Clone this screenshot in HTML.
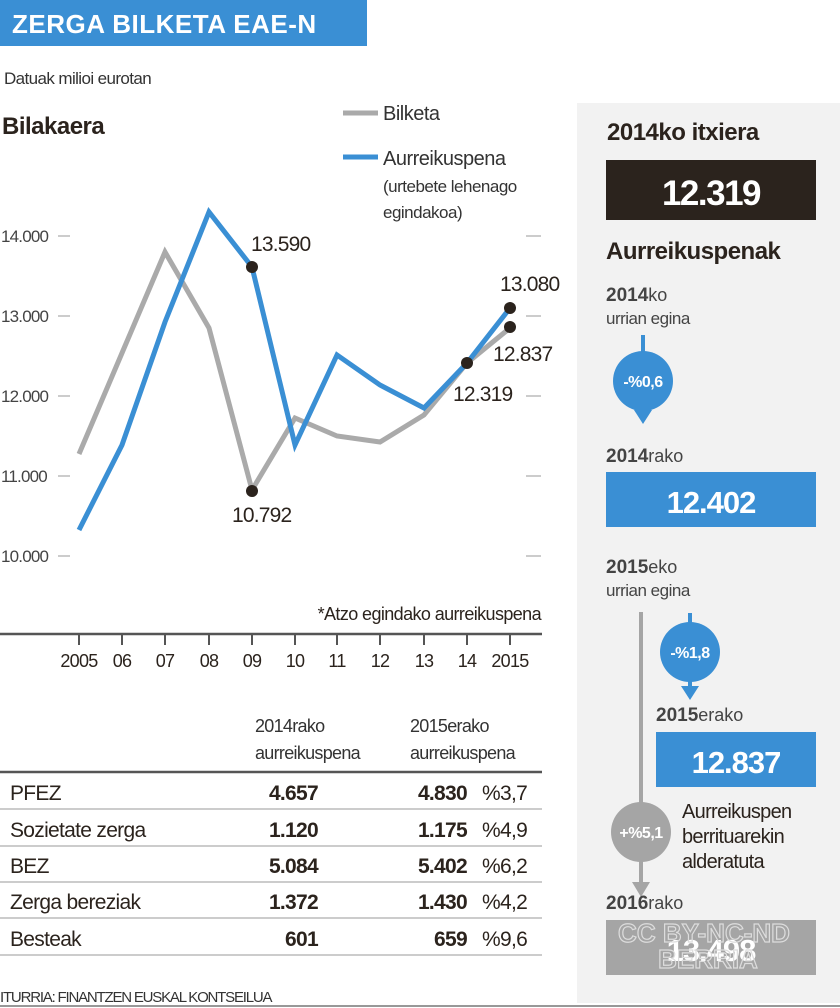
<!DOCTYPE html>
<html><head><meta charset="utf-8"><style>
html,body{margin:0;padding:0;background:#fff;}
svg{display:block;font-family:"Liberation Sans",sans-serif;}
</style></head><body>
<svg width="840" height="1008" viewBox="0 0 840 1008" xmlns="http://www.w3.org/2000/svg">
<rect x="0" y="0" width="367" height="46" fill="#3a8fd4"/>
<text x="12" y="33" font-size="26" font-weight="bold" fill="#fff" letter-spacing="0.5">ZERGA BILKETA EAE-N</text>
<text x="4" y="84" font-size="17" fill="#333" letter-spacing="-0.6">Datuak milioi eurotan</text>
<text x="2" y="134" font-size="24" font-weight="bold" fill="#2b231d" letter-spacing="-0.5">Bilakaera</text>
<line x1="343" y1="113" x2="378" y2="113" stroke="#aaa" stroke-width="5"/>
<text x="383" y="120" font-size="20" fill="#333" letter-spacing="-0.5">Bilketa</text>
<line x1="343" y1="157" x2="378" y2="157" stroke="#3a8fd4" stroke-width="5"/>
<text x="383" y="165" font-size="20" fill="#333" letter-spacing="-0.5">Aurreikuspena</text>
<text x="383" y="192" font-size="17" fill="#333" letter-spacing="-0.5">(urtebete lehenago</text>
<text x="383" y="218" font-size="17" fill="#333" letter-spacing="-0.5">egindakoa)</text>
<g font-size="17" fill="#444" letter-spacing="-0.8">
<text x="1" y="242">14.000</text><text x="1" y="322">13.000</text><text x="1" y="402">12.000</text><text x="1" y="482">11.000</text><text x="1" y="562">10.000</text>
</g>
<g stroke="#999" stroke-width="1">
<line x1="58" y1="236" x2="70" y2="236"/><line x1="58" y1="316" x2="70" y2="316"/><line x1="58" y1="396" x2="70" y2="396"/><line x1="58" y1="476" x2="70" y2="476"/><line x1="58" y1="556" x2="70" y2="556"/>
<line x1="526" y1="236" x2="541" y2="236"/><line x1="526" y1="316" x2="541" y2="316"/><line x1="526" y1="396" x2="541" y2="396"/><line x1="526" y1="476" x2="541" y2="476"/><line x1="526" y1="556" x2="541" y2="556"/>
</g>
<polyline fill="none" stroke="#aaa" stroke-width="5" stroke-linejoin="miter" points="79,454 122,353 165,252 209,328 252,490 295,418 337,436 380,442 424,415 467,363 510,328"/>
<polyline fill="none" stroke="#3a8fd4" stroke-width="5" stroke-linejoin="miter" points="79,530 122,445 165,322 209,212 252,267 295,445 337,355 380,385 424,408 467,363 510,308"/>
<g fill="#2b231d"><circle cx="252" cy="267" r="6"/><circle cx="252" cy="491" r="6"/><circle cx="467" cy="363" r="6"/><circle cx="510" cy="308" r="6"/><circle cx="510" cy="327" r="6"/></g>
<g font-size="21" fill="#2b231d" letter-spacing="-0.8">
<text x="251" y="251">13.590</text><text x="232" y="522">10.792</text><text x="453" y="401">12.319</text><text x="493" y="361">12.837</text><text x="500" y="291">13.080</text>
</g>
<text x="541" y="620" font-size="18" fill="#2b231d" text-anchor="end" letter-spacing="-0.6">*Atzo egindako aurreikuspena</text>
<line x1="0" y1="634" x2="542" y2="634" stroke="#555" stroke-width="2.5"/>
<g stroke="#555" stroke-width="2"><line x1="79" y1="634" x2="79" y2="645"/><line x1="122" y1="634" x2="122" y2="645"/><line x1="165" y1="634" x2="165" y2="645"/><line x1="209" y1="634" x2="209" y2="645"/><line x1="252" y1="634" x2="252" y2="645"/><line x1="295" y1="634" x2="295" y2="645"/><line x1="337" y1="634" x2="337" y2="645"/><line x1="380" y1="634" x2="380" y2="645"/><line x1="424" y1="634" x2="424" y2="645"/><line x1="467" y1="634" x2="467" y2="645"/><line x1="510" y1="634" x2="510" y2="645"/></g>
<g font-size="18" fill="#2b231d" text-anchor="middle" letter-spacing="-0.7">
<text x="79" y="667">2005</text><text x="122" y="667">06</text><text x="165" y="667">07</text><text x="209" y="667">08</text><text x="252" y="667">09</text><text x="295" y="667">10</text><text x="337" y="667">11</text><text x="380" y="667">12</text><text x="424" y="667">13</text><text x="467" y="667">14</text><text x="510" y="667">2015</text>
</g>
<g font-size="18" fill="#333" letter-spacing="-0.7">
<text x="255" y="732">2014rako</text><text x="255" y="759">aurreikuspena</text>
<text x="410" y="732">2015erako</text><text x="410" y="759">aurreikuspena</text>
</g>
<line x1="0" y1="772" x2="542" y2="772" stroke="#555" stroke-width="2.5"/>
<g stroke="#999" stroke-width="1"><line x1="0" y1="809" x2="542" y2="809"/><line x1="0" y1="846" x2="542" y2="846"/><line x1="0" y1="882" x2="542" y2="882"/><line x1="0" y1="918" x2="542" y2="918"/><line x1="0" y1="955" x2="542" y2="955"/></g>
<g font-size="21" fill="#2b231d" letter-spacing="-0.7">
<text x="10" y="800">PFEZ</text><text x="10" y="837">Sozietate zerga</text><text x="10" y="873">BEZ</text><text x="10" y="909">Zerga bereziak</text><text x="10" y="946">Besteak</text>
<text x="482" y="800">%3,7</text><text x="482" y="837">%4,9</text><text x="482" y="873">%6,2</text><text x="482" y="909">%4,2</text><text x="482" y="946">%9,6</text>
</g>
<g font-size="21" fill="#2b231d" font-weight="bold" text-anchor="end" letter-spacing="-0.7">
<text x="318" y="800">4.657</text><text x="318" y="837">1.120</text><text x="318" y="873">5.084</text><text x="318" y="909">1.372</text><text x="318" y="946">601</text>
<text x="467" y="800">4.830</text><text x="467" y="837">1.175</text><text x="467" y="873">5.402</text><text x="467" y="909">1.430</text><text x="467" y="946">659</text>
</g>
<text x="0" y="1002" font-size="15" fill="#333" letter-spacing="-1.2">ITURRIA: FINANTZEN EUSKAL KONTSEILUA</text>
<rect x="577" y="103" width="263" height="900" fill="#f2f2f2"/>
<line x1="0" y1="1006" x2="840" y2="1006" stroke="#777" stroke-width="1.5"/>
<text x="607" y="140" font-size="24" font-weight="bold" fill="#2b231d" letter-spacing="-0.5">2014ko itxiera</text>
<rect x="606" y="160" width="210" height="60" fill="#2b231d"/>
<text x="711" y="205" font-size="35" font-weight="bold" fill="#fff" text-anchor="middle" letter-spacing="-1.5">12.319</text>
<text x="606" y="259" font-size="24" font-weight="bold" fill="#2b231d" letter-spacing="-0.5">Aurreikuspenak</text>
<text x="606" y="301" font-size="19" fill="#444"><tspan font-weight="bold">2014</tspan><tspan font-size="18">ko</tspan></text>
<text x="606" y="324" font-size="17" fill="#444" letter-spacing="-0.5">urrian egina</text>
<line x1="643" y1="335" x2="643" y2="415" stroke="#3a8fd4" stroke-width="4"/>
<polygon points="634,410 652,410 643,424" fill="#3a8fd4"/>
<circle cx="643" cy="381" r="30" fill="#3a8fd4"/>
<text x="643" y="387" font-size="16" font-weight="bold" fill="#fff" text-anchor="middle" letter-spacing="-0.5">-%0,6</text>
<text x="606" y="462" font-size="19" fill="#444"><tspan font-weight="bold">2014</tspan><tspan font-size="18">rako</tspan></text>
<rect x="606" y="472" width="210" height="55" fill="#3a8fd4"/>
<text x="711" y="513" font-size="31" font-weight="bold" fill="#fff" text-anchor="middle" letter-spacing="-1">12.402</text>
<text x="606" y="573" font-size="19" fill="#444"><tspan font-weight="bold">2015</tspan><tspan font-size="18">eko</tspan></text>
<text x="606" y="596" font-size="17" fill="#444" letter-spacing="-0.5">urrian egina</text>
<line x1="641" y1="612" x2="641" y2="888" stroke="#a5a5a5" stroke-width="4"/>
<polygon points="632,882 650,882 641,897" fill="#a5a5a5"/>
<line x1="690" y1="613" x2="690" y2="690" stroke="#3a8fd4" stroke-width="4"/>
<polygon points="681,686 699,686 690,700" fill="#3a8fd4"/>
<circle cx="690" cy="652" r="30" fill="#3a8fd4"/>
<text x="690" y="658" font-size="16" font-weight="bold" fill="#fff" text-anchor="middle" letter-spacing="-0.5">-%1,8</text>
<text x="656" y="721" font-size="19" fill="#444"><tspan font-weight="bold">2015</tspan><tspan font-size="18">erako</tspan></text>
<rect x="656" y="732" width="160" height="55" fill="#3a8fd4"/>
<text x="736" y="773" font-size="31" font-weight="bold" fill="#fff" text-anchor="middle" letter-spacing="-1">12.837</text>
<circle cx="641" cy="832" r="30" fill="#a5a5a5"/>
<text x="641" y="838" font-size="16" font-weight="bold" fill="#fff" text-anchor="middle" letter-spacing="-0.5">+%5,1</text>
<g font-size="20" fill="#2b231d" letter-spacing="-0.7">
<text x="682" y="818">Aurreikuspen</text><text x="682" y="843">berrituarekin</text><text x="682" y="868">alderatuta</text>
</g>
<text x="606" y="909" font-size="19" fill="#444"><tspan font-weight="bold">2016</tspan><tspan font-size="18">rako</tspan></text>
<rect x="606" y="920" width="210" height="55" fill="#a5a5a5"/>
<text x="711" y="961" font-size="31" font-weight="bold" fill="#fff" text-anchor="middle" letter-spacing="-1">13.498</text>
<text x="704" y="942" font-size="26" font-weight="bold" fill="none" stroke="#ddd" stroke-width="1.2" text-anchor="middle">CC BY-NC-ND</text>
<text x="708" y="968" font-size="26" font-weight="bold" fill="none" stroke="#ddd" stroke-width="1.2" text-anchor="middle">BERRIA</text>
</svg>
</body></html>
